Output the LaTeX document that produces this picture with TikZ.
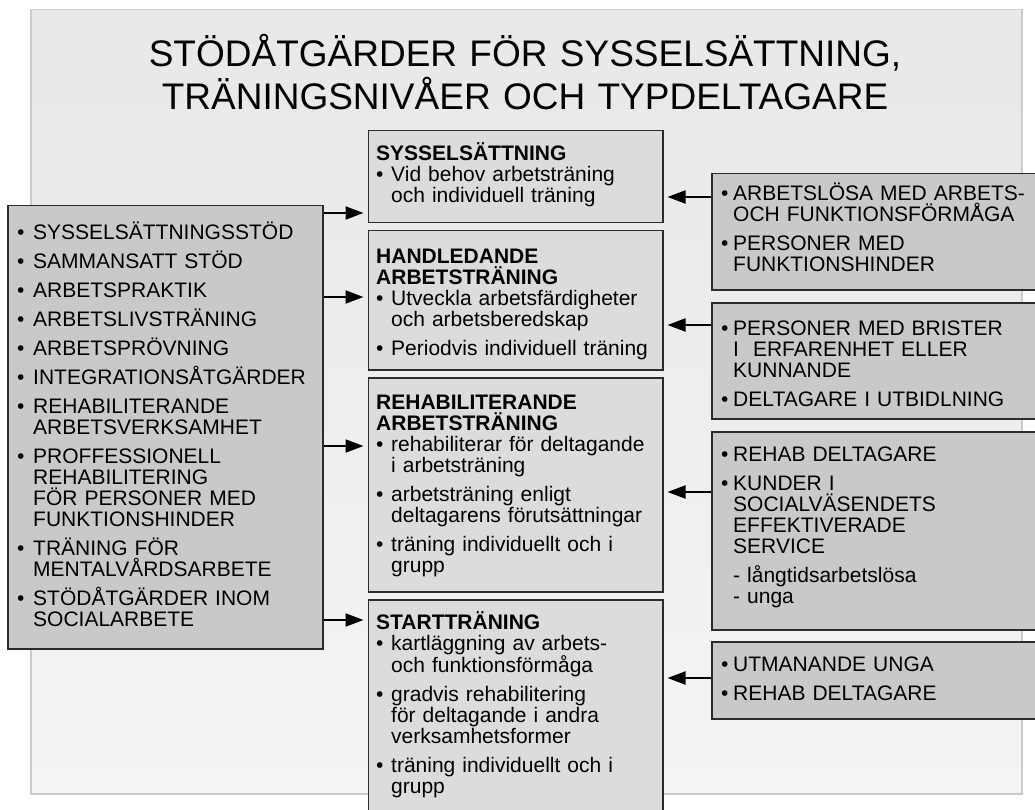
\documentclass[tikz,border=0pt]{standalone}
\usepackage{fontspec}
\setmainfont{Liberation Sans}
\usetikzlibrary{arrows.meta}
\definecolor{panelA}{HTML}{E7E8E8}
\definecolor{panelB}{HTML}{F4F4F4}
\definecolor{panelline}{HTML}{CCCCCC}
\definecolor{midfill}{HTML}{DCDCDE}
\definecolor{sidefill}{HTML}{C8C9CB}
\definecolor{boxline}{HTML}{2B2B2B}
% first item of a node (no paragraph break before it)
\newcommand{\fitem}[2][15pt]{\hangindent=#1\hangafter=1\noindent\makebox[#1][l]{\textbullet}#2}
% following items
\newcommand{\bitem}[2][15pt]{\par\fitem[#1]{#2}}
\newcommand{\head}[1]{\noindent\textbf{#1}\par\vskip-\parskip}
\tikzset{
  midbox/.style={draw=boxline, line width=1.5pt, fill=midfill, inner sep=0pt, anchor=north west},
  sidebox/.style={draw=boxline, line width=1.5pt, fill=sidefill, inner sep=0pt, anchor=north west},
  body/.style={anchor=base west, inner sep=0pt, text width=330pt, align=left,
     font=\fontsize{21}{21}\selectfont, execute at begin node={\setlength{\parskip}{8pt}}},
  conn/.style={line width=2pt, -{Triangle[length=18pt,width=13pt]}, shorten >=4pt},
}
\begin{document}
\begin{tikzpicture}[x=1pt,y=-1pt]
\useasboundingbox (0,0) rectangle (1035,810);
\clip (0,0) rectangle (1035,810);
\fill[white] (0,0) rectangle (1035,810);
\node[draw=panelline, line width=1.5pt, top color=panelA, bottom color=panelB,
  minimum width=991pt, minimum height=784pt, inner sep=0pt, anchor=north west] (panel) at (30,9) {};
\node[anchor=base, text width=900pt, align=center, inner sep=0pt,
  font=\fontsize{37}{43}\selectfont] (title) at (525,67)
  {STÖDÅTGÄRDER FÖR SYSSELSÄTTNING,\\TRÄNINGSNIVÅER OCH TYPDELTAGARE};
% middle boxes
\node[midbox, minimum width=294.5pt, minimum height=92pt] (m1) at (367.5,130) {};
\node[midbox, minimum width=294.5pt, minimum height=139pt] (m2) at (367.5,230) {};
\node[midbox, minimum width=294.5pt, minimum height=214pt] (m3) at (367.5,377) {};
\node[midbox, minimum width=294.5pt, minimum height=230pt] (m4) at (367.5,599) {};
% left box
\node[sidebox, minimum width=315pt, minimum height=443pt] (L) at (7,205) {};
% right boxes
\node[sidebox, minimum width=340pt, minimum height=116pt] (r1) at (711,173) {};
\node[sidebox, minimum width=340pt, minimum height=116pt] (r2) at (711,302) {};
\node[sidebox, minimum width=340pt, minimum height=198pt] (r3) at (711,431) {};
\node[sidebox, minimum width=340pt, minimum height=77pt] (r4) at (711,641) {};
% middle texts
\node[body] (m1t) at (376,160.5) {\head{SYSSELSÄTTNING}\bitem{Vid behov arbetsträning\newline och individuell träning}\par};
\node[body] (m2t) at (376,263.5) {\head{HANDLEDANDE\newline ARBETSTRÄNING}\bitem{Utveckla arbetsfärdigheter\newline och arbetsberedskap}\bitem{Periodvis individuell träning}\par};
\node[body] (m3t) at (376,409.5) {\head{REHABILITERANDE\newline ARBETSTRÄNING}\bitem{rehabiliterar för deltagande\newline i arbetsträning}\bitem{arbetsträning enligt\newline deltagarens förutsättningar}\bitem{träning individuellt och i\newline grupp}\par};
\node[body] (m4t) at (376,629.5) {\head{STARTTRÄNING}\bitem{kartläggning av arbets-\newline och funktionsförmåga}\bitem{gradvis rehabilitering\newline för deltagande i andra\newline verksamhetsformer}\bitem{träning individuellt och i\newline grupp}\par};
% left text
\node[body] (Lt) at (17,239.5) {\fitem[16pt]{SYSSELSÄTTNINGSSTÖD}\bitem[16pt]{SAMMANSATT STÖD}\bitem[16pt]{ARBETSPRAKTIK}\bitem[16pt]{ARBETSLIVSTRÄNING}\bitem[16pt]{ARBETSPRÖVNING}\bitem[16pt]{INTEGRATIONSÅTGÄRDER}\bitem[16pt]{REHABILITERANDE\newline ARBETSVERKSAMHET}\bitem[16pt]{PROFFESSIONELL\newline REHABILITERING\newline FÖR PERSONER MED\newline FUNKTIONSHINDER}\bitem[16pt]{TRÄNING FÖR\newline MENTALVÅRDSARBETE}\bitem[16pt]{STÖDÅTGÄRDER INOM\newline SOCIALARBETE}\par};
% right texts
\node[body] (r1t) at (721,200.5) {\fitem[12pt]{ARBETSLÖSA MED ARBETS-\newline OCH FUNKTIONSFÖRMÅGA}\bitem[12pt]{PERSONER MED\newline FUNKTIONSHINDER}\par};
\node[body] (r2t) at (721,335.5) {\fitem[12pt]{PERSONER MED BRISTER\newline I\ \ ERFARENHET ELLER\newline KUNNANDE}\bitem[12pt]{DELTAGARE I UTBIDLNING}\par};
\node[body] (r3t) at (721,461.5) {\fitem[12pt]{REHAB DELTAGARE}\bitem[12pt]{KUNDER I\newline SOCIALVÄSENDETS\newline EFFEKTIVERADE\newline SERVICE}\par\hangindent=12pt\hangafter=0\noindent - långtidsarbetslösa\newline - unga\par};
\node[body] (r4t) at (721,671.5) {\fitem[12pt]{UTMANANDE UNGA}\bitem[12pt]{REHAB DELTAGARE}\par};
% connectors
\foreach \n/\yy in {m1/213, m2/297, m3/446, m4/620}{
  \coordinate (a\n) at (0,\yy);
  \draw[conn] (L.east |- a\n) -- (\n.west |- a\n);
}
\foreach \r/\n/\yy in {r1/m1/197, r2/m2/325, r3/m3/492, r4/m4/678}{
  \coordinate (b\n) at (0,\yy);
  \draw[conn] (\r.west |- b\n) -- (\n.east |- b\n);
}
\end{tikzpicture}
\end{document}
